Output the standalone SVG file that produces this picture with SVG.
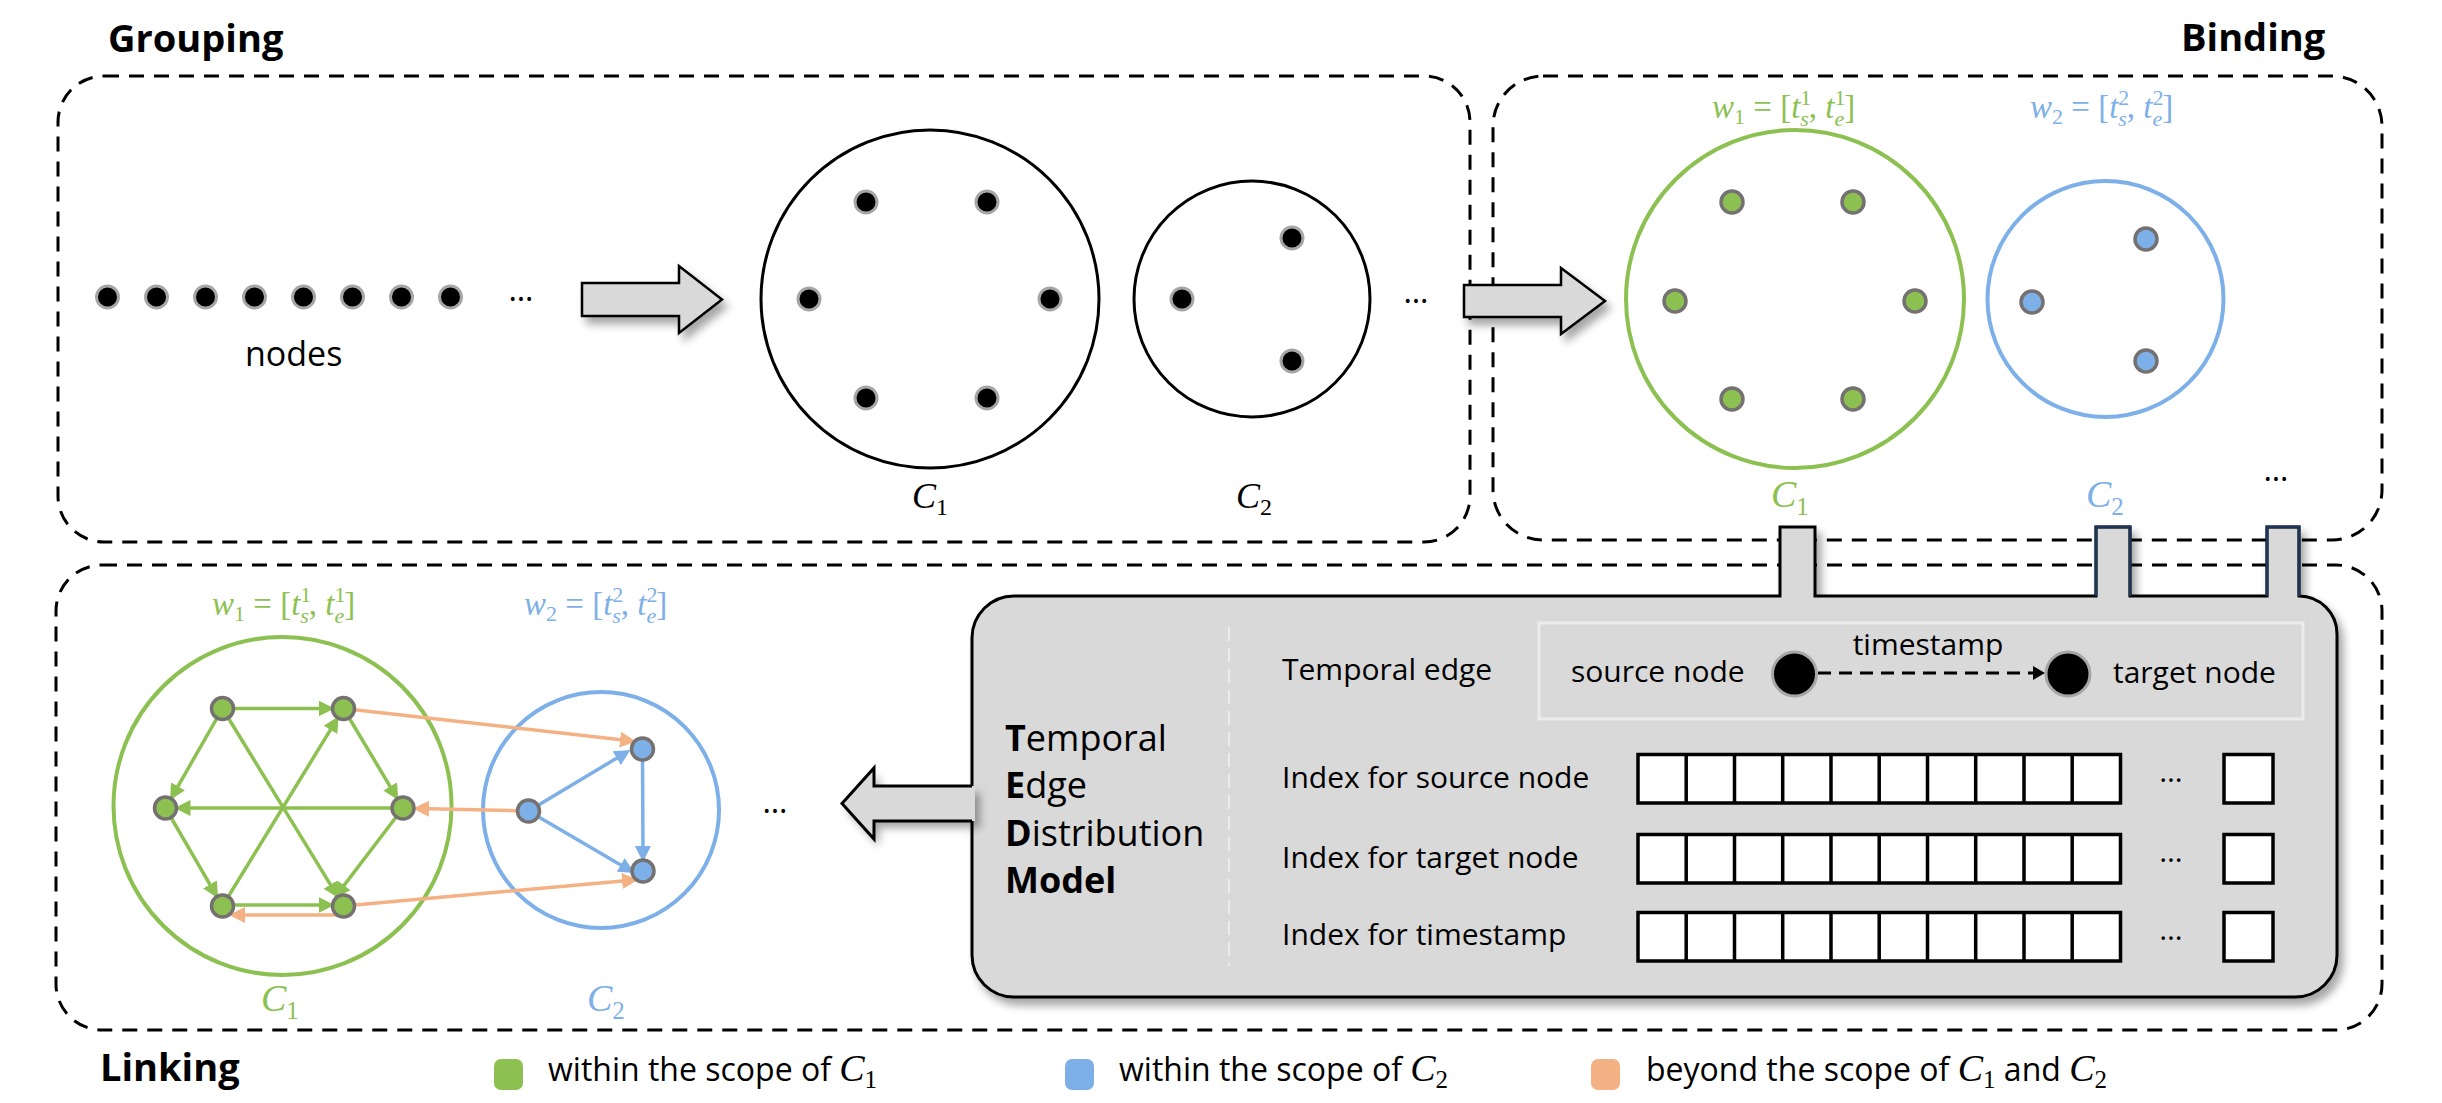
<svg xmlns="http://www.w3.org/2000/svg" width="2442" height="1103" viewBox="0 0 2442 1103">
<defs>
<style>
.dash{fill:none;stroke:#000;stroke-width:3;stroke-dasharray:15 10}
.sans{font-family:"Open Sans","Noto Sans","Liberation Sans",sans-serif}
.bold{font-weight:bold}
.math{font-family:"Liberation Serif","DejaVu Serif",serif}
.it{font-style:italic}
.bnode{fill:#000;stroke:#a6a6a6;stroke-width:3}
.gnode{fill:#8cc152;stroke:#767171;stroke-width:3.5}
.blnode{fill:#7db0e8;stroke:#767171;stroke-width:3.5}
.ge{fill:none;stroke:#8cc152;stroke-width:3.5;marker-end:url(#ag)}
.be{fill:none;stroke:#7db0e8;stroke-width:3.5;marker-end:url(#ab)}
.oe{fill:none;stroke:#f4b183;stroke-width:3.5;marker-end:url(#ao)}
.cell{fill:#fff;stroke:#000;stroke-width:3.5}
.barrow{fill:#d9d9d9;stroke:#000;stroke-width:2.5}
</style>
<marker id="ag" markerUnits="userSpaceOnUse" markerWidth="16" markerHeight="16" viewBox="0 0 16 16" refX="12" refY="8" orient="auto"><path d="M0,0 L16,8 L0,16 Z" fill="#8cc152"/></marker>
<marker id="ab" markerUnits="userSpaceOnUse" markerWidth="16" markerHeight="16" viewBox="0 0 16 16" refX="12" refY="8" orient="auto"><path d="M0,0 L16,8 L0,16 Z" fill="#7db0e8"/></marker>
<marker id="ao" markerUnits="userSpaceOnUse" markerWidth="16" markerHeight="16" viewBox="0 0 16 16" refX="12" refY="8" orient="auto"><path d="M0,0 L16,8 L0,16 Z" fill="#f4b183"/></marker>
<marker id="ak" markerUnits="userSpaceOnUse" markerWidth="12" markerHeight="14" viewBox="0 0 12 14" refX="11" refY="7" orient="auto"><path d="M0,0 L12,7 L0,14 Z" fill="#000"/></marker>
<filter id="sh" x="-10%" y="-10%" width="130%" height="140%"><feDropShadow dx="5" dy="7" stdDeviation="4" flood-color="#000" flood-opacity="0.35"/></filter>
</defs>
<rect width="2442" height="1103" fill="#fff"/>

<!-- section frames -->
<g id="grouping-frame">
<rect class="dash" x="58" y="76" width="1412" height="466" rx="46"/>
<text class="sans bold" x="108" y="52" font-size="38">Grouping</text>
</g>
<g id="binding-frame">
<rect class="dash" x="1493" y="76" width="889" height="464" rx="50"/>
<text class="sans bold" x="2181" y="51" font-size="38">Binding</text>
</g>
<g id="linking-frame">
<rect class="dash" x="56" y="565" width="2326" height="465" rx="46"/>
<text class="sans bold" x="100" y="1081" font-size="38">Linking</text>
</g>

<!-- Grouping content -->
<g id="nodes-row">
<circle class="bnode" cx="107.5" cy="297" r="11"/>
<circle class="bnode" cx="156.5" cy="297" r="11"/>
<circle class="bnode" cx="205.5" cy="297" r="11"/>
<circle class="bnode" cx="254.5" cy="297" r="11"/>
<circle class="bnode" cx="303.5" cy="297" r="11"/>
<circle class="bnode" cx="352.5" cy="297" r="11"/>
<circle class="bnode" cx="401.5" cy="297" r="11"/>
<circle class="bnode" cx="450.5" cy="297" r="11"/>
<text class="sans" x="521" y="301" font-size="32" text-anchor="middle">…</text>
<text class="sans" x="245" y="366" font-size="34">nodes</text>
</g>
<g id="group-c1">
<circle cx="930" cy="299" r="169" fill="none" stroke="#000" stroke-width="3"/>
<circle class="bnode" cx="866" cy="202" r="11"/>
<circle class="bnode" cx="987" cy="202" r="11"/>
<circle class="bnode" cx="809" cy="299" r="11"/>
<circle class="bnode" cx="1050" cy="299" r="11"/>
<circle class="bnode" cx="866" cy="398" r="11"/>
<circle class="bnode" cx="987" cy="398" r="11"/>
<text class="math" x="912" y="508" font-size="36"><tspan class="it">C</tspan><tspan font-size="24" dy="7">1</tspan></text>
</g>
<g id="group-c2">
<circle cx="1252" cy="299" r="118" fill="none" stroke="#000" stroke-width="3"/>
<circle class="bnode" cx="1292" cy="238" r="11"/>
<circle class="bnode" cx="1182" cy="299" r="11"/>
<circle class="bnode" cx="1292" cy="361" r="11"/>
<text class="math" x="1236" y="508" font-size="36"><tspan class="it">C</tspan><tspan font-size="24" dy="7">2</tspan></text>
<text class="sans" x="1416" y="303" font-size="32" text-anchor="middle">…</text>
</g>

<!-- Binding content -->
<g id="bind-c1">
<text class="math" x="1712" y="118" font-size="33" fill="#8cc152"><tspan class="it">w</tspan><tspan font-size="22" dy="6">1</tspan><tspan dy="-6"> = [</tspan><tspan class="it">t</tspan><tspan font-size="22" dy="-13">1</tspan><tspan font-size="22" class="it" dx="-11" dy="21">s</tspan><tspan dy="-8">, </tspan><tspan class="it">t</tspan><tspan font-size="22" dy="-13">1</tspan><tspan font-size="22" class="it" dx="-11" dy="21">e</tspan><tspan dy="-8">]</tspan></text>
<circle cx="1795" cy="299" r="169" fill="none" stroke="#8cc152" stroke-width="4"/>
<circle class="gnode" cx="1732" cy="202" r="11"/>
<circle class="gnode" cx="1853" cy="202" r="11"/>
<circle class="gnode" cx="1675" cy="301" r="11"/>
<circle class="gnode" cx="1915" cy="301" r="11"/>
<circle class="gnode" cx="1732" cy="399" r="11"/>
<circle class="gnode" cx="1853" cy="399" r="11"/>
<text class="math" x="1771" y="507" font-size="38" fill="#8cc152"><tspan class="it">C</tspan><tspan font-size="25" dy="8">1</tspan></text>
</g>
<g id="bind-c2">
<text class="math" x="2030" y="118" font-size="33" fill="#7db0e8"><tspan class="it">w</tspan><tspan font-size="22" dy="6">2</tspan><tspan dy="-6"> = [</tspan><tspan class="it">t</tspan><tspan font-size="22" dy="-13">2</tspan><tspan font-size="22" class="it" dx="-11" dy="21">s</tspan><tspan dy="-8">, </tspan><tspan class="it">t</tspan><tspan font-size="22" dy="-13">2</tspan><tspan font-size="22" class="it" dx="-11" dy="21">e</tspan><tspan dy="-8">]</tspan></text>
<circle cx="2105.5" cy="299" r="118" fill="none" stroke="#7db0e8" stroke-width="4"/>
<circle class="blnode" cx="2146" cy="239" r="11"/>
<circle class="blnode" cx="2032" cy="302" r="11"/>
<circle class="blnode" cx="2146" cy="361" r="11"/>
<text class="math" x="2086" y="507" font-size="38" fill="#7db0e8"><tspan class="it">C</tspan><tspan font-size="25" dy="8">2</tspan></text>
<text class="sans" x="2276" y="481" font-size="32" text-anchor="middle">…</text>
</g>

<!-- block arrows -->
<g id="arrow-group-to-bind">
<polygon class="barrow" filter="url(#sh)" points="582,283 679,283 679,266 722,299.5 679,333 679,316 582,316"/>
</g>
<g id="arrow-bind">
<polygon class="barrow" filter="url(#sh)" points="1464,285 1561,285 1561,268 1605,301 1561,334 1561,317 1464,317"/>
</g>

<!-- TEDM model box -->
<g id="tedm">
<path filter="url(#sh)" d="M1014,596 H1780 V527 H1815 V596 H2096 V527 H2130 V596 H2267 V527 H2299 V596 A38,38 0 0 1 2337,634 V955 A42,42 0 0 1 2295,997 H1014 A42,42 0 0 1 972,955 V638 A42,42 0 0 1 1014,596 Z" fill="#d9d9d9" stroke="#000" stroke-width="3"/>
<path d="M2096,596 V527 H2130 V596 M2267,596 V527 H2299 V596" fill="none" stroke="#1f3558" stroke-width="3"/>
<line x1="1229" y1="627" x2="1229" y2="966" stroke="#ececec" stroke-width="2" stroke-dasharray="14 7"/>
<text class="sans" x="1005" y="751" font-size="36"><tspan class="bold">T</tspan>emporal</text>
<text class="sans" x="1005" y="798" font-size="36"><tspan class="bold">E</tspan>dge</text>
<text class="sans" x="1005" y="846" font-size="36"><tspan class="bold">D</tspan>istribution</text>
<text class="sans bold" x="1005" y="893" font-size="36">Model</text>
<text class="sans" x="1282" y="680" font-size="30">Temporal edge</text>
<rect x="1539" y="623" width="764" height="96" fill="none" stroke="#ececec" stroke-width="3"/>
<text class="sans" x="1571" y="682" font-size="30">source node</text>
<text class="sans" x="1928" y="655" font-size="30" text-anchor="middle">timestamp</text>
<text class="sans" x="2113" y="683" font-size="30">target node</text>
<line x1="1818" y1="673" x2="2044" y2="673" stroke="#000" stroke-width="3" stroke-dasharray="13 8" marker-end="url(#ak)"/>
<circle cx="1794.5" cy="674" r="22" fill="#000" stroke="#a6a6a6" stroke-width="3"/>
<circle cx="2068" cy="674" r="22" fill="#000" stroke="#a6a6a6" stroke-width="3"/>
<text class="sans" x="1282" y="788" font-size="30">Index for source node</text>
<text class="sans" x="1282" y="868" font-size="30">Index for target node</text>
<text class="sans" x="1282" y="945" font-size="30">Index for timestamp</text>
<g id="cells">
<path class="cell" d="M1638,754.5 H2120.5 V803 H1638 Z M1686.2,754.5 V803 M1734.5,754.5 V803 M1782.7,754.5 V803 M1831,754.5 V803 M1879.2,754.5 V803 M1927.5,754.5 V803 M1975.7,754.5 V803 M2024,754.5 V803 M2072.2,754.5 V803"/>
<path class="cell" d="M1638,834.5 H2120.5 V883 H1638 Z M1686.2,834.5 V883 M1734.5,834.5 V883 M1782.7,834.5 V883 M1831,834.5 V883 M1879.2,834.5 V883 M1927.5,834.5 V883 M1975.7,834.5 V883 M2024,834.5 V883 M2072.2,834.5 V883"/>
<path class="cell" d="M1638,912.5 H2120.5 V961 H1638 Z M1686.2,912.5 V961 M1734.5,912.5 V961 M1782.7,912.5 V961 M1831,912.5 V961 M1879.2,912.5 V961 M1927.5,912.5 V961 M1975.7,912.5 V961 M2024,912.5 V961 M2072.2,912.5 V961"/>
<rect class="cell" x="2224" y="754.5" width="49" height="48.5"/>
<rect class="cell" x="2224" y="834.5" width="49" height="48.5"/>
<rect class="cell" x="2224" y="912.5" width="49" height="48.5"/>
<text class="sans" x="2171" y="782" font-size="30" text-anchor="middle">…</text>
<text class="sans" x="2171" y="862" font-size="30" text-anchor="middle">…</text>
<text class="sans" x="2171" y="940" font-size="30" text-anchor="middle">…</text>
</g>
</g>
<g id="arrow-tedm-to-link">
<path d="M975,786 H874 V768 L842,803.5 L874,839 V821 H975 Z" fill="#d9d9d9" filter="url(#sh)"/>
<path d="M972,786 H874 V768 L842,803.5 L874,839 V821 H972" fill="none" stroke="#000" stroke-width="3"/>
</g>

<!-- Linking content -->
<g id="link-labels">
<text class="math" x="212" y="615" font-size="33" fill="#8cc152"><tspan class="it">w</tspan><tspan font-size="22" dy="6">1</tspan><tspan dy="-6"> = [</tspan><tspan class="it">t</tspan><tspan font-size="22" dy="-13">1</tspan><tspan font-size="22" class="it" dx="-11" dy="21">s</tspan><tspan dy="-8">, </tspan><tspan class="it">t</tspan><tspan font-size="22" dy="-13">1</tspan><tspan font-size="22" class="it" dx="-11" dy="21">e</tspan><tspan dy="-8">]</tspan></text>
<text class="math" x="524" y="615" font-size="33" fill="#7db0e8"><tspan class="it">w</tspan><tspan font-size="22" dy="6">2</tspan><tspan dy="-6"> = [</tspan><tspan class="it">t</tspan><tspan font-size="22" dy="-13">2</tspan><tspan font-size="22" class="it" dx="-11" dy="21">s</tspan><tspan dy="-8">, </tspan><tspan class="it">t</tspan><tspan font-size="22" dy="-13">2</tspan><tspan font-size="22" class="it" dx="-11" dy="21">e</tspan><tspan dy="-8">]</tspan></text>
<text class="math" x="261" y="1011" font-size="38" fill="#8cc152"><tspan class="it">C</tspan><tspan font-size="25" dy="8">1</tspan></text>
<text class="math" x="587" y="1011" font-size="38" fill="#7db0e8"><tspan class="it">C</tspan><tspan font-size="25" dy="8">2</tspan></text>
<text class="sans" x="775" y="813" font-size="32" text-anchor="middle">…</text>
</g>
<g id="link-scopes">
<circle cx="282.5" cy="806" r="169" fill="none" stroke="#8cc152" stroke-width="4"/>
<circle cx="601" cy="810" r="118" fill="none" stroke="#7db0e8" stroke-width="4"/>
</g>
<g id="connectors">
<line class="ge" x1="222.5" y1="708.5" x2="330.5" y2="708.5"/>
<line class="ge" x1="222.5" y1="708.5" x2="172" y2="796.7"/>
<line class="ge" x1="222.5" y1="708.5" x2="336.7" y2="894.9"/>
<line class="ge" x1="222.5" y1="906" x2="336.7" y2="719.6"/>
<line class="ge" x1="343.5" y1="708.5" x2="396.3" y2="796.8"/>
<line class="ge" x1="403" y1="808" x2="178.5" y2="808"/>
<line class="ge" x1="165.5" y1="808" x2="216" y2="894.8"/>
<line class="ge" x1="403" y1="808" x2="336.8" y2="894.9"/>
<line class="ge" x1="222.5" y1="905" x2="330.5" y2="905"/>
<line class="oe" x1="338" y1="915" x2="233" y2="915"/>
<line class="oe" x1="343.5" y1="708.5" x2="632" y2="741"/>
<line class="oe" x1="528.5" y1="811" x2="417" y2="808.5"/>
<line class="oe" x1="343.5" y1="906" x2="634" y2="880"/>
<line class="be" x1="528.5" y1="811" x2="627" y2="752"/>
<line class="be" x1="642.5" y1="749" x2="643" y2="858"/>
<line class="be" x1="528.5" y1="811" x2="631" y2="871"/>
</g>
<g id="link-c1-nodes">
<circle class="gnode" cx="222.5" cy="708.5" r="11"/>
<circle class="gnode" cx="343.5" cy="708.5" r="11"/>
<circle class="gnode" cx="165.5" cy="808" r="11"/>
<circle class="gnode" cx="403" cy="808" r="11"/>
<circle class="gnode" cx="222.5" cy="906" r="11"/>
<circle class="gnode" cx="343.5" cy="906" r="11"/>
</g>
<g id="link-c2-nodes">
<circle class="blnode" cx="642.5" cy="749" r="11"/>
<circle class="blnode" cx="528.5" cy="811" r="11"/>
<circle class="blnode" cx="643" cy="871" r="11"/>
</g>

<!-- legend -->
<g id="legend">
<rect x="494" y="1059" width="29" height="31" rx="7" fill="#8cc152"/>
<text class="sans" x="548" y="1081" font-size="32">within the scope of <tspan class="math it" font-size="38">C</tspan><tspan class="math" font-size="25" dy="7">1</tspan></text>
<rect x="1065" y="1059" width="29" height="31" rx="7" fill="#7db0e8"/>
<text class="sans" x="1119" y="1081" font-size="32">within the scope of <tspan class="math it" font-size="38">C</tspan><tspan class="math" font-size="25" dy="7">2</tspan></text>
<rect x="1591" y="1059" width="29" height="31" rx="7" fill="#f4b183"/>
<text class="sans" x="1646" y="1081" font-size="32">beyond the scope of <tspan class="math it" font-size="38">C</tspan><tspan class="math" font-size="25" dy="7">1</tspan><tspan dy="-7"> and </tspan><tspan class="math it" font-size="38">C</tspan><tspan class="math" font-size="25" dy="7">2</tspan></text>
</g>
</svg>
